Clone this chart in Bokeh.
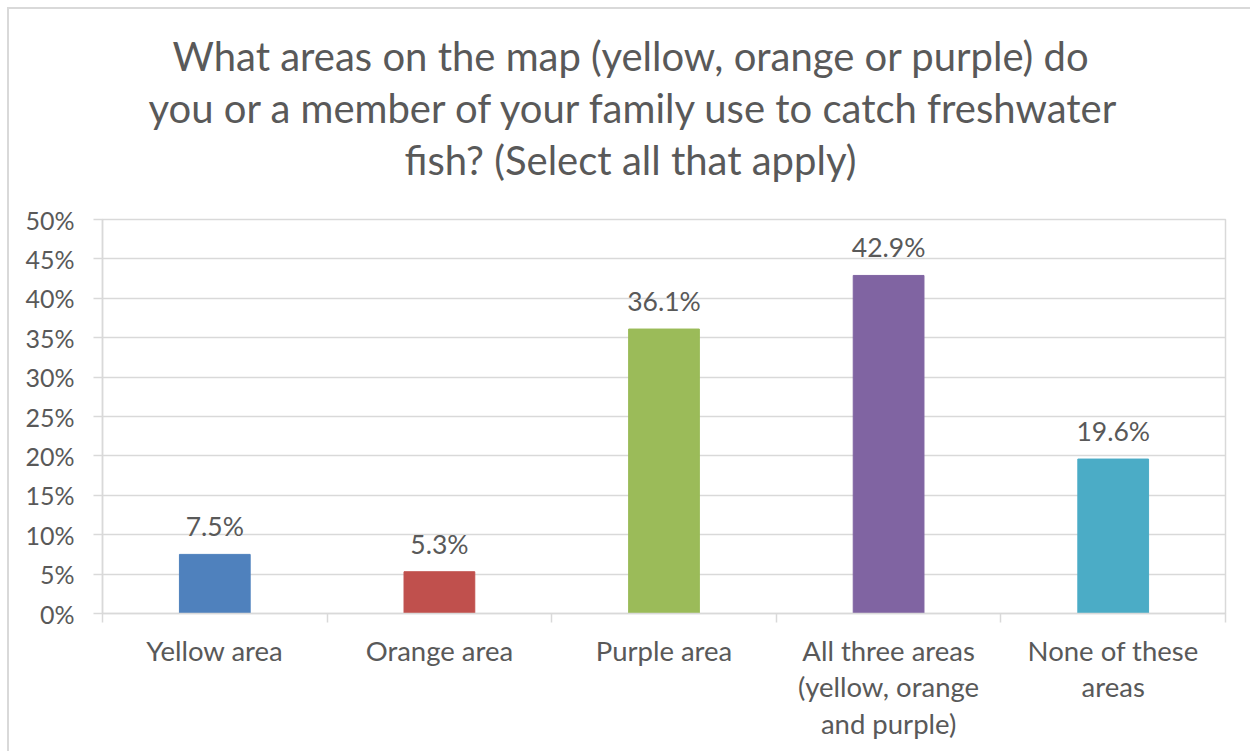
from bokeh.plotting import figure
from bokeh.models import FixedTicker, NumeralTickFormatter, Range1d, Title, ColumnDataSource
from bokeh.core.properties import value
from bokeh.embed import file_html
from bokeh.resources import INLINE

# ---- data ----
categories = ["Yellow area", "Orange area", "Purple area",
              "All three areas\n(yellow, orange\nand purple)", "None of these\nareas"]
shares = [0.075, 0.053, 0.361, 0.429, 0.196]
share_labels = ["7.5%", "5.3%", "36.1%", "42.9%", "19.6%"]
bar_colors = ["#4F81BD", "#C0504D", "#9BBB59", "#8064A2", "#4BACC6"]
y_ticks = [0.0, 0.05, 0.10, 0.15, 0.20, 0.25, 0.30, 0.35, 0.40, 0.45, 0.50]
title_lines = ["What areas on the map (yellow, orange or purple) do",
               "you or a member of your family use to catch freshwater",
               "fish? (Select all that apply)"]

FONT = "Lato"
TEXT = "#595959"
GRID = "#D9D9D9"

n = len(categories)
xs = [i + 0.5 for i in range(n)]
src = ColumnDataSource(dict(x=xs, top=shares, color=bar_colors, label=share_labels))

p = figure(width=1243, height=744, x_range=Range1d(0, n), y_range=Range1d(0, 0.5),
           output_backend="svg", toolbar_location=None,
           min_border_left=93, min_border_right=27, min_border_top=210, min_border_bottom=140,
           background_fill_color="white", border_fill_color="white",
           outline_line_color=GRID, outline_line_width=1.5)
p.title = None
p.margin = (7, 0, 0, 7)
p.styles = {"border-top": "2px solid #D9D9D9", "border-left": "2px solid #D9D9D9"}

# spacer between the frame and the title block (first-added sits closest to the frame)
p.add_layout(Title(text=" ", text_font=FONT, text_font_size="28px", standoff=0), "above")

# titles: left-aligned with offsets so every line is centred on the chart area
title_offsets = [70, 46, 302]
title_standoffs = [0, 4, 0]
for i in [2, 1, 0]:
    t = Title(text=title_lines[i], align="left", offset=title_offsets[i], text_font=FONT,
              text_font_size="40px", text_font_style="normal", text_color=TEXT,
              standoff=title_standoffs[i])
    p.add_layout(t, "above")

# bars
p.vbar(x="x", top="top", width=0.315, color="color", source=src)
p.text(x="x", y="top", text="label", source=src, text_align="center", text_baseline="middle",
       y_offset=-28, text_font=value(FONT), text_font_size="26.5px", text_color=TEXT)

# x axis
xa = p.xaxis[0]
xa.ticker = FixedTicker(ticks=xs, minor_ticks=list(range(n + 1)))
xa.major_label_overrides = {x: c for x, c in zip(xs, categories)}
xa.major_tick_line_color = None
xa.major_tick_out = 0
xa.major_tick_in = 0
xa.minor_tick_line_color = GRID
xa.minor_tick_line_width = 1.5
xa.minor_tick_out = 9
xa.minor_tick_in = 0
xa.axis_line_color = GRID
xa.axis_line_width = 1.5
xa.major_label_text_font = FONT
xa.major_label_text_font_size = "27.5px"
xa.major_label_text_color = TEXT
xa.major_label_text_line_height = 1.12
xa.major_label_standoff = 11

# y axis
ya = p.yaxis[0]
ya.ticker = FixedTicker(ticks=y_ticks)
ya.formatter = NumeralTickFormatter(format="0%")
ya.axis_line_color = GRID
ya.axis_line_width = 1.5
ya.major_tick_line_color = GRID
ya.major_tick_line_width = 1.5
ya.major_tick_out = 9
ya.major_tick_in = 0
ya.minor_tick_line_color = None
ya.major_label_text_font = FONT
ya.major_label_text_font_size = "25px"
ya.major_label_text_color = TEXT
ya.major_label_standoff = 19

p.xgrid.grid_line_color = None
p.ygrid.grid_line_color = GRID
p.ygrid.grid_line_width = 1.5

open("out.html", "w").write(file_html(p, INLINE))
